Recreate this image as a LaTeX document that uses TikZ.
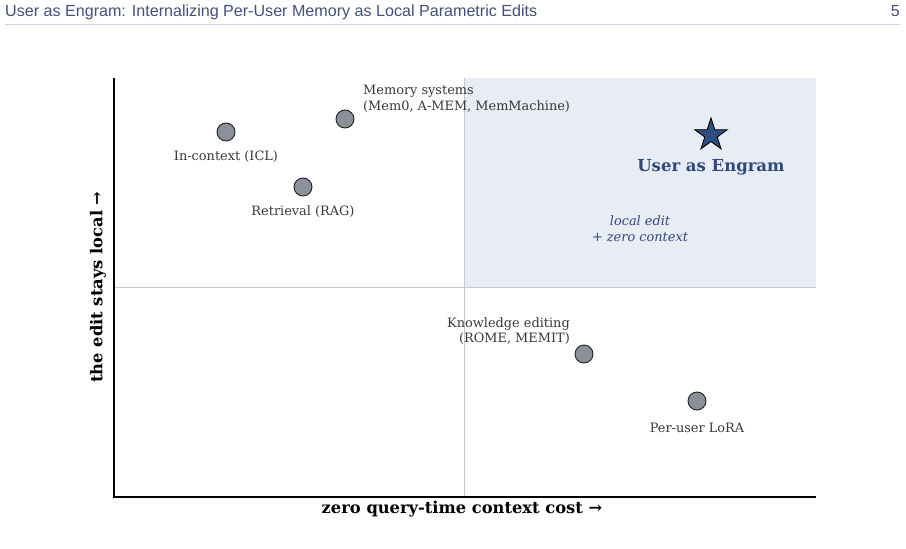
\documentclass[tikz,border=0pt]{standalone}
\usepackage{fontspec}
\setmainfont{DejaVu Serif}
\newfontfamily\headfont{Liberation Sans}
\usetikzlibrary{shapes.geometric}
\definecolor{quadfill}{HTML}{E8ECF4}
\definecolor{divgray}{HTML}{C8C9CE}
\definecolor{dotfill}{HTML}{8C909A}
\definecolor{dotedge}{HTML}{222222}
\definecolor{labgray}{HTML}{383838}
\definecolor{engblue}{HTML}{2E4A7D}
\definecolor{starfill}{HTML}{2F4E80}
\definecolor{headcol}{HTML}{43507A}
\definecolor{headrule}{HTML}{CDD2E2}
\tikzset{
  dot/.style={circle, fill=dotfill, draw=dotedge, line width=0.9pt, minimum size=18pt, inner sep=0pt},
  lab/.style={text=labgray, font=\fontsize{12.9}{15.5}\selectfont, inner sep=0pt},
  axlab/.style={font=\bfseries\fontsize{16.3}{19}\selectfont, inner sep=0pt},
  divider/.style={draw=divgray, line width=1pt},
  spine/.style={draw=black, line width=1.2pt},
}
\begin{document}
\begin{tikzpicture}[x=1pt,y=-1pt]
\useasboundingbox (0,0) rectangle (906,549);
% header
\node[anchor=base west, inner sep=0pt, text=headcol, font=\headfont\fontsize{16.1}{19}\selectfont] (hdr) at (5,16) {User as Engram: Internalizing Per-User Memory as Local Parametric Edits};
\node[anchor=base east, inner sep=0pt, text=headcol, font=\headfont\fontsize{16.1}{19}\selectfont] (pg) at (900,16) {5};
\draw[headrule, line width=0.8pt] (5,24) -- (900,24);
% shaded quadrant
\fill[quadfill] (464,78) rectangle (816,287);
% dividers
\draw[divider] (464,78) -- (464,497);
\draw[divider] (114,287) -- (816,287);
% spines
\coordinate (ytop) at (114,78);
\coordinate (orig) at (114,497);
\coordinate (xend) at (816,497);
\draw[spine] (ytop) -- (orig) -- (xend);
% axis labels
\node[axlab] (xlab) at (462,509) {zero query-time context cost →};
\node[axlab, rotate=90] (ylab) at (98,287) {the edit stays local →};
% points
\node[dot] (icl) at (226,132) {};
\node[lab] (icllab) at (226,157) {In-context (ICL)};
\node[dot] (mem) at (345,119) {};
\node[lab, anchor=west, align=left] (memlab) at (363,99) {Memory systems\\(Mem0, A-MEM, MemMachine)};
\node[dot] (rag) at (303,187) {};
\node[lab] (raglab) at (303,212) {Retrieval (RAG)};
\node[dot] (ke) at (584,354) {};
\node[lab, anchor=east, align=right] (kelab) at (570,331) {Knowledge editing\\(ROME, MEMIT)};
\node[dot] (lora) at (697,401) {};
\node[lab] (loralab) at (697,428) {Per-user LoRA};
% star
\node[star, star points=5, star point ratio=2.618, minimum size=34pt, inner sep=0pt, fill=starfill, draw=black, line width=0.9pt] (eng) at (711,135) {};
\node[text=engblue, font=\bfseries\fontsize{16.5}{19}\selectfont, inner sep=0pt] (englab) at (711,167) {User as Engram};
\node[text=engblue, font=\itshape\fontsize{12.9}{15.5}\selectfont, align=center, inner sep=0pt] (note) at (640,229) {local edit\\+ zero context};
\end{tikzpicture}
\end{document}
